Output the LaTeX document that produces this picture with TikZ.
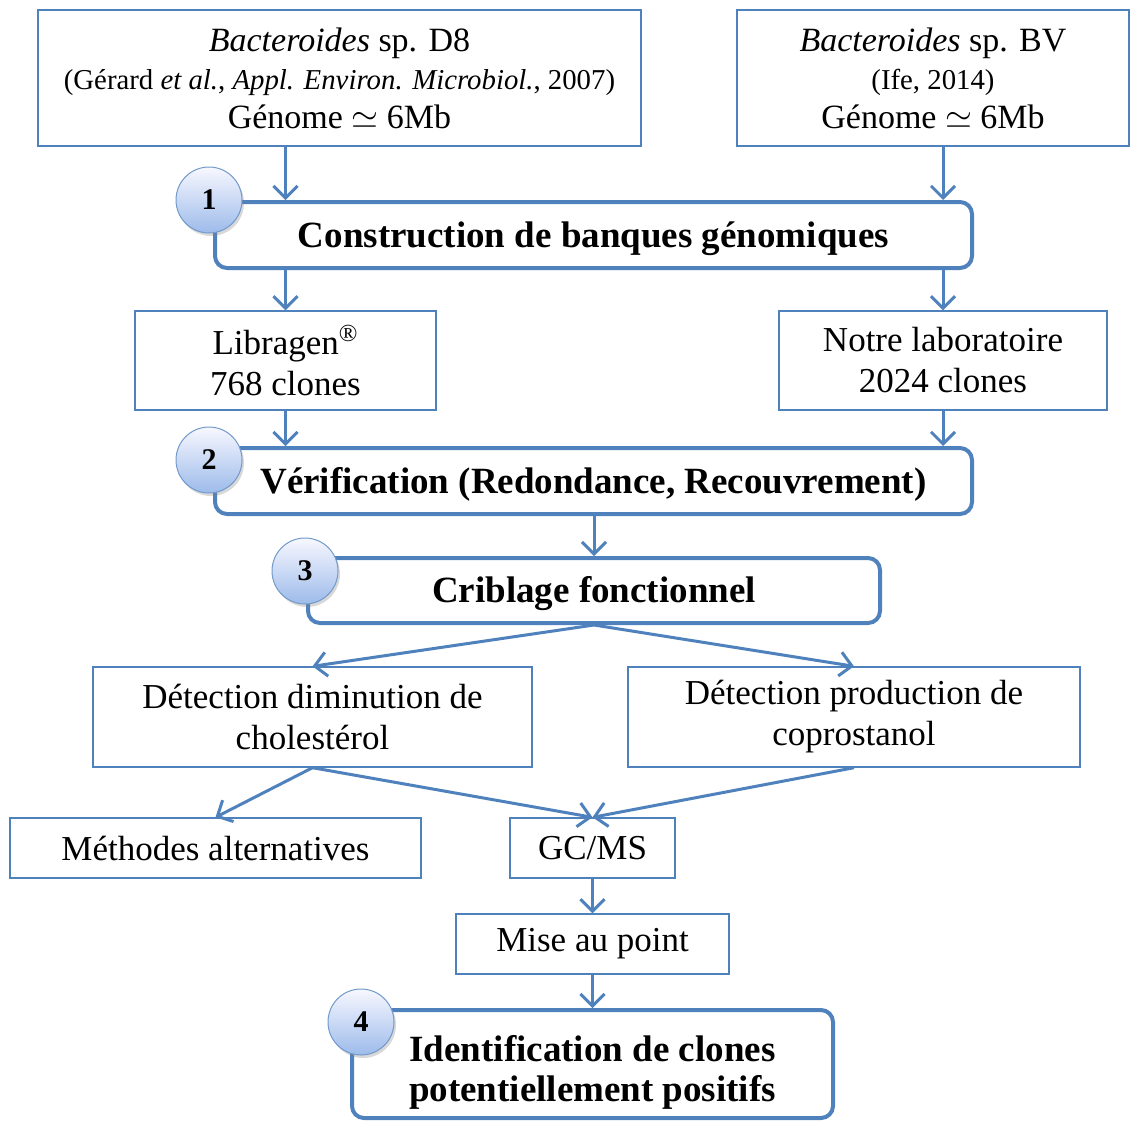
\documentclass[tikz,border=0pt]{standalone}
\usepackage{fontspec}
\setmainfont{Liberation Serif}
\usepackage{tikz}
\usetikzlibrary{arrows.meta,positioning,shadows}
\definecolor{lineblue}{HTML}{4F81BD}
\definecolor{ballblue}{HTML}{9DBBEA}
\tikzset{
  box/.style={draw=lineblue, line width=0.7pt, align=center,
              font=\fontsize{17.5}{20.5}\selectfont, inner sep=2pt},
  srcbox/.style={box, font=\fontsize{17}{19.3}\selectfont},
  stepbox/.style={draw=lineblue, line width=2pt, rounded corners=6pt, align=center,
              font=\fontsize{18.5}{20}\selectfont\bfseries, fill=white},
  oneline/.style={text height=16pt, text depth=4pt},
  ball/.style={circle, draw=lineblue!80, line width=0.5pt, minimum size=33pt,
              top color=blue!3, bottom color=ballblue, font=\fontsize{15}{15}\selectfont\bfseries,
              drop shadow={opacity=0.3, shadow xshift=1pt, shadow yshift=-1.5pt}},
  flow/.style={-{Straight Barb[length=6pt,width=12pt]}, line width=1.5pt, draw=lineblue},
}
\newcommand{\refline}[1]{{\fontsize{14.4}{14.4}\selectfont #1}}
\begin{document}
\begin{tikzpicture}[x=0.5pt, y=-0.5pt]
  \useasboundingbox (0,0) rectangle (1130,1120);
  % sources
  \node[srcbox, minimum width=301.5pt, minimum height=68pt] (d8) at (339.5,78)
    {\textit{Bacteroides} sp. D8\\
     \refline{(Gérard \textit{et al.}, \textit{Appl. Environ. Microbiol.}, 2007)}\\
     Génome $\simeq$ 6Mb};
  \node[srcbox, minimum width=196pt, minimum height=68pt] (bv) at (933,78)
    {\textit{Bacteroides} sp. BV\\
     \refline{(Ife, 2014)}\\
     Génome $\simeq$ 6Mb};
  % steps and boxes
  \node[stepbox, oneline, minimum width=378.5pt, minimum height=33pt] (cons) at (593.5,235)
    {Construction de banques génomiques};
  \node[box, minimum width=150.5pt, minimum height=49.5pt] (lib) at (285.5,360.5)
    {Libragen\textsuperscript{®}\\768 clones};
  \node[box, minimum width=164pt, minimum height=49.5pt] (lab) at (943,360.5)
    {Notre laboratoire\\2024 clones};
  \node[stepbox, oneline, minimum width=378.5pt, minimum height=33pt] (verif) at (593.5,481)
    {Vérification (Redondance, Recouvrement)};
  \node[stepbox, oneline, minimum width=286pt, minimum height=32.5pt] (crib) at (594,590.5)
    {Criblage fonctionnel};
  \node[box, minimum width=219.5pt, minimum height=50pt] (dim) at (312.5,717)
    {Détection diminution de\\cholestérol};
  \node[box, minimum width=226pt, minimum height=50pt] (prod) at (854,717)
    {Détection production de\\coprostanol};
  \node[box, minimum width=205.5pt, minimum height=30pt] (meth) at (215.5,848)
    {Méthodes alternatives};
  \node[box, minimum width=82.5pt, minimum height=30pt] (gc) at (592.5,848)
    {GC/MS};
  \node[box, minimum width=136.5pt, minimum height=30pt] (mise) at (592.5,944)
    {Mise au point};
  \node[stepbox, minimum width=240.5pt, minimum height=54pt] (ident) at (592.5,1064)
    {\rule{0pt}{21pt}Identification de clones\\potentiellement positifs};
  % connectors
  \draw[flow] (d8.south -| lib) -- (cons.north -| lib);
  \draw[flow] (bv.south -| lab) -- (cons.north -| lab);
  \draw[flow] (cons.south -| lib) -- (lib.north);
  \draw[flow] (cons.south -| lab) -- (lab.north);
  \draw[flow] (lib.south) -- (verif.north -| lib);
  \draw[flow] (lab.south) -- (verif.north -| lab);
  \draw[flow] (verif.south -| crib) -- (crib.north);
  \foreach \j in {dim,prod} \draw[flow] (crib.south) -- (\j.north);
  \draw[flow] (dim.south) -- (meth.north);
  \foreach \i in {dim,prod} \draw[flow] (\i.south) -- (gc.north);
  \draw[flow] (gc.south) -- (mise.north);
  \draw[flow] (mise.south) -- (ident.north);
  % step numbers
  \node[ball] (n1) at (209,200) {1};
  \node[ball] (n2) at (209,460) {2};
  \node[ball] (n3) at (305,571) {3};
  \node[ball] (n4) at (361,1022) {4};
\end{tikzpicture}
\end{document}
